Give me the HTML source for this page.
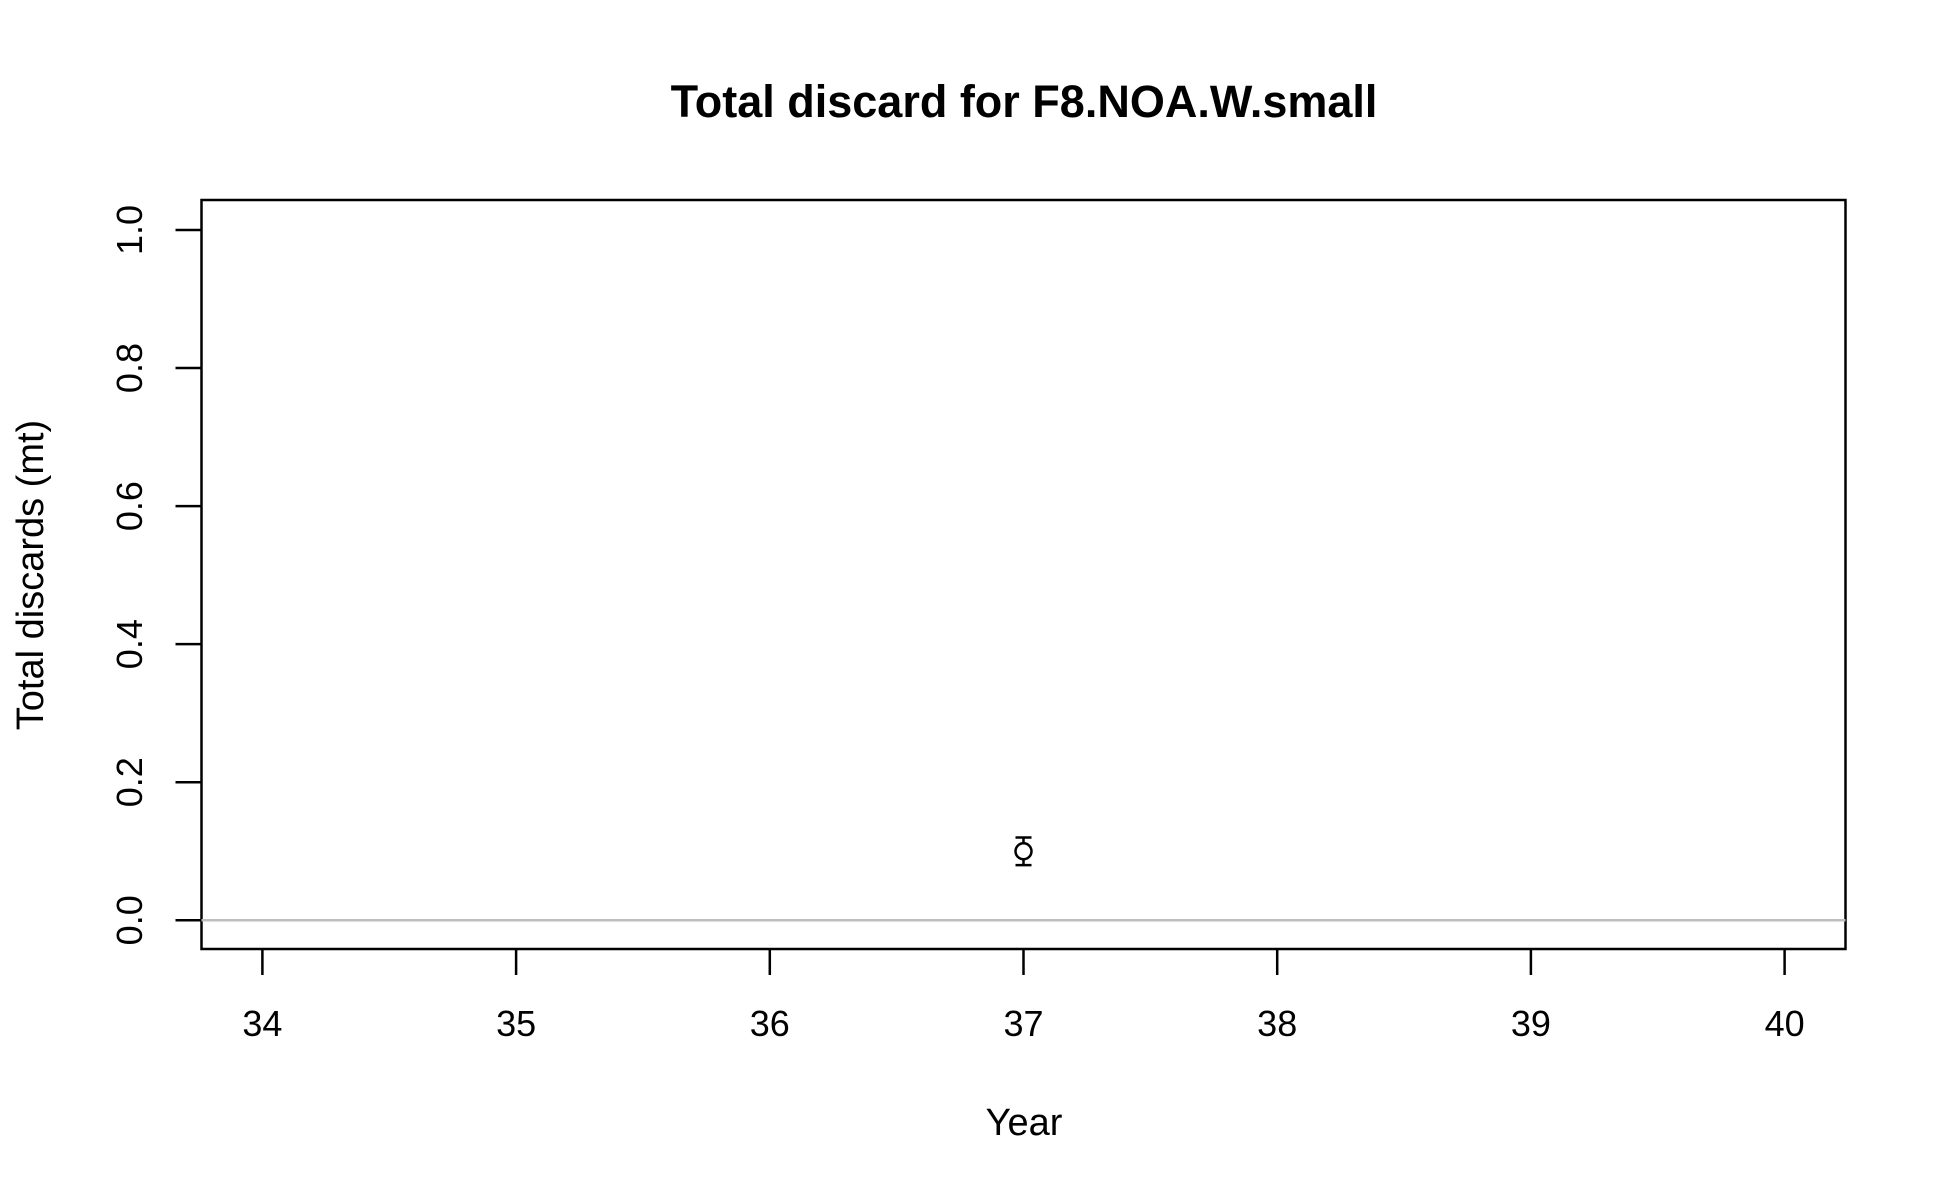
<!DOCTYPE html>
<html><head><meta charset="utf-8"><style>
html,body{margin:0;padding:0;background:#fff}
svg{display:block;font-family:"Liberation Sans",Arial,sans-serif}
</style></head><body>
<svg id="chart" width="1950" height="1200" viewBox="0 0 1950 1200">
<text x="1024" y="117" font-size="45" font-weight="bold" text-anchor="middle">Total discard for F8.NOA.W.small</text>
<rect x="201.5" y="200" width="1644" height="749" fill="none" stroke="#000" stroke-width="2.5"/>
<g id="xaxis"></g>
<g id="yaxis"></g>
<line id="zero" stroke="#bebebe" stroke-width="2.5"/>
<g id="marks"></g>
<text x="1024" y="1135" font-size="38" text-anchor="middle">Year</text>
<text x="0" y="0" font-size="38" text-anchor="middle" transform="translate(43,575) rotate(-90)">Total discards (mt)</text>
</svg>
<script>
const xTicks=[34,35,36,37,38,39,40];
const yTicks=[0,0.2,0.4,0.6,0.8,1.0];
const yTickLabels=["0.0","0.2","0.4","0.6","0.8","1.0"];
const years=[37];
const discards=[0.1];
const lower=[0.08];
const upper=[0.12];
const NS="http://www.w3.org/2000/svg";
function sx(v){return 262.4+(v-34)*(1784.6-262.4)/6;}
function sy(v){return 920.3-v*(920.3-230);}
function mk(t,a,p){const e=document.createElementNS(NS,t);for(const k in a)e.setAttribute(k,a[k]);p.appendChild(e);return e;}
const xa=document.getElementById('xaxis'),ya=document.getElementById('yaxis'),m=document.getElementById('marks');
xTicks.forEach(v=>{
 const l=mk('line',{x1:sx(v),x2:sx(v),y1:949,y2:975,stroke:'#000','stroke-width':2.5},xa);
 
 
 const t=mk('text',{x:sx(v),y:1036,'font-size':36,'text-anchor':'middle'},xa);t.textContent=v;
 
 
});
yTicks.forEach((v,i)=>{
 const l=mk('line',{x1:175.5,x2:201.5,y1:sy(v),y2:sy(v),stroke:'#000','stroke-width':2.5},ya);
 
 
 const t=mk('text',{x:0,y:0,'font-size':36,'text-anchor':'middle',transform:`translate(142,${sy(v)}) rotate(-90)`},ya);t.textContent=yTickLabels[i];
 
 
});
const z=document.getElementById('zero');
z.setAttribute('x1',201.5);z.setAttribute('x2',1845.5);z.setAttribute('y1',sy(0));z.setAttribute('y2',sy(0));
years.forEach((yr,i)=>{
 const x=sx(yr);
 const e=mk('path',{d:`M${x},${sy(lower[i])}V${sy(upper[i])}M${x-8},${sy(lower[i])}H${x+8}M${x-8},${sy(upper[i])}H${x+8}`,stroke:'#000','stroke-width':2.5,fill:'none'},m);
 
 
 const c=mk('circle',{cx:x,cy:sy(discards[i]),r:8,fill:'#fff',stroke:'#000','stroke-width':2.5},m);
 
 
});
</script>
</body></html>
